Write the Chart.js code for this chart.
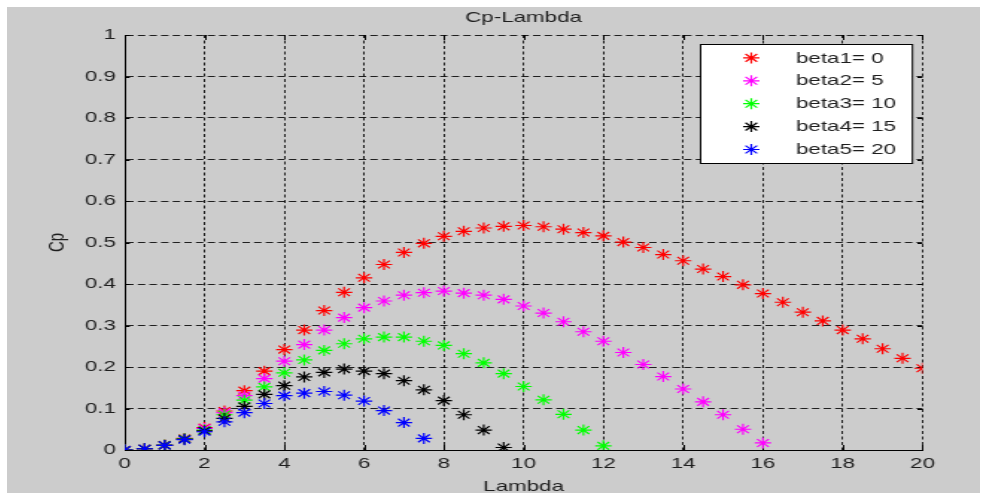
<!DOCTYPE html>
<html><head><meta charset="utf-8">
<script src="https://cdn.jsdelivr.net/npm/chart.js@4/dist/chart.umd.min.js"></script>
<style>
html,body{margin:0;padding:0;background:#ffffff;}
#frame{position:absolute;left:7px;top:7px;width:973px;height:486px;background:#cccccc;overflow:hidden;}
#wrap{position:absolute;left:0;top:0;width:653px;height:486px;transform:scaleX(1.49004);transform-origin:0 0;}
canvas{display:block;}
</style></head><body>
<div id="frame"><div id="wrap"><canvas id="c" width="653" height="486"></canvas></div></div>
<script>
const lambda = [0,0.5,1,1.5,2,2.5,3,3.5,4,4.5,5,5.5,6,6.5,7,7.5,8,8.5,9,9.5,10,10.5,11,11.5,12,12.5,13,13.5,14,14.5,15,15.5,16,16.5,17,17.5,18,18.5,19,19.5,20];
const seriesLabels = ['beta1= 0','beta2= 5','beta3= 10','beta4= 15','beta5= 20'];
const cpBeta0 = [0,0.003,0.012,0.028,0.054,0.094,0.143,0.190,0.242,0.289,0.336,0.380,0.415,0.447,0.476,0.498,0.515,0.527,0.535,0.539,0.541,0.538,0.532,0.524,0.516,0.501,0.488,0.471,0.456,0.436,0.418,0.398,0.377,0.356,0.332,0.311,0.289,0.268,0.244,0.221,0.197];
const cpBeta5 = [0,0.003,0.012,0.027,0.052,0.090,0.131,0.172,0.214,0.254,0.289,0.319,0.343,0.359,0.373,0.379,0.383,0.378,0.373,0.363,0.347,0.330,0.309,0.285,0.262,0.235,0.206,0.177,0.147,0.116,0.085,0.050,0.017];
const cpBeta10 = [0,0.003,0.012,0.027,0.048,0.085,0.120,0.152,0.186,0.217,0.240,0.256,0.268,0.272,0.272,0.262,0.252,0.232,0.210,0.184,0.153,0.121,0.086,0.048,0.010];
const cpBeta15 = [0,0.003,0.011,0.026,0.046,0.076,0.105,0.134,0.155,0.176,0.187,0.195,0.190,0.184,0.167,0.145,0.119,0.085,0.048,0.006];
const cpBeta20 = [0,0.003,0.011,0.025,0.044,0.068,0.090,0.112,0.131,0.137,0.141,0.132,0.118,0.095,0.066,0.028];
const xTickValues = [0,2,4,6,8,10,12,14,16,18,20];
const xTickLabels = ['0','2','4','6','8','10','12','14','16','18','20'];
const yTickValues = [0,0.1,0.2,0.3,0.4,0.5,0.6,0.7,0.8,0.9,1];
const yTickLabels = ['0','0.1','0.2','0.3','0.4','0.5','0.6','0.7','0.8','0.9','1'];

const colors = ['#ff0000','#ff00ff','#00ff00','#000000','#0000ff'];
const allSeries = [cpBeta0, cpBeta5, cpBeta10, cpBeta15, cpBeta20];
const FONT = '"Liberation Sans", Arial, sans-serif';
const TXT = '#1e1e1e';

const datasets = allSeries.map((vals, k) => ({
  label: seriesLabels[k],
  data: vals.map((v, i) => ({x: lambda[i], y: v})),
  showLine: false,
  pointStyle: 'star',
  pointRadius: 5.5,
  pointHoverRadius: 5.5,
  pointBorderWidth: 1.2,
  borderColor: colors[k],
  backgroundColor: colors[k],
  order: 5 - k
}));

const edgeTicks = {
  id: 'edgeTicks',
  beforeDatasetsDraw(chart) {
    const {ctx, chartArea: a, scales: {x, y}} = chart;
    ctx.save();
    ctx.strokeStyle = '#000';
    ctx.lineWidth = 1;
    ctx.beginPath();
    x.ticks.forEach(t => {
      const px = Math.round(x.getPixelForValue(t.value)) + 0.5;
      ctx.moveTo(px, a.bottom); ctx.lineTo(px, a.bottom - 5);
      ctx.moveTo(px, a.top); ctx.lineTo(px, a.top + 5);
    });
    y.ticks.forEach(t => {
      const py = Math.round(y.getPixelForValue(t.value)) + 0.5;
      ctx.moveTo(a.left, py); ctx.lineTo(a.left + 3.4, py);
      ctx.moveTo(a.right, py); ctx.lineTo(a.right - 3.4, py);
    });
    ctx.stroke();
    ctx.restore();
  }
};

const boxLegend = {
  id: 'boxLegend',
  afterDraw(chart) {
    const {ctx, chartArea: a} = chart;
    const ds = chart.data.datasets;
    ctx.save();
    ctx.font = '15px ' + FONT;
    const tw = Math.max(...ds.map(d => ctx.measureText(d.label).width));
    const rowH = 22.9;
    const w = 64 + tw + 11;
    const h = 13.4 + rowH * (ds.length - 1) + 14;
    const left = Math.round(a.right - 7 - w) + 0.5;
    const top = Math.round(a.top + 9) + 0.5;
    ctx.fillStyle = '#ffffff';
    ctx.fillRect(left, top, w, h);
    ctx.strokeStyle = '#000';
    ctx.lineWidth = 1;
    ctx.strokeRect(left, top, w, h);
    ds.forEach((d, i) => {
      const cy = top + 13.4 + rowH * i;
      ctx.strokeStyle = d.borderColor;
      ctx.fillStyle = d.backgroundColor;
      ctx.lineWidth = d.pointBorderWidth;
      Chart.helpers.drawPoint(ctx, {pointStyle: 'star', radius: d.pointRadius, borderWidth: d.pointBorderWidth, rotation: 0}, left + 34, cy);
      ctx.fillStyle = TXT;
      ctx.textBaseline = 'middle';
      ctx.textAlign = 'left';
      ctx.fillText(d.label, left + 64, cy + 0.5);
    });
    ctx.restore();
  }
};

new Chart(document.getElementById('c'), {
  type: 'scatter',
  data: {datasets},
  plugins: [edgeTicks, boxLegend],
  options: {
    responsive: false,
    animation: false,
    devicePixelRatio: 1,
    layout: {padding: {left: 0, right: 38.6, top: 0, bottom: 0}},
    plugins: {
      legend: {display: false},
      tooltip: {enabled: false},
      title: {
        display: true,
        text: 'Cp-Lambda',
        fullSize: false,
        color: TXT,
        font: {family: FONT, size: 15, weight: 'normal', lineHeight: 1.2},
        padding: {top: 2, bottom: 8}
      }
    },
    scales: {
      x: {
        type: 'linear',
        min: 0, max: 20,
        afterBuildTicks: s => { s.ticks = xTickValues.map(v => ({value: v})); },
        afterFit: s => { s.height = 43; },
        ticks: {
          color: TXT,
          font: {family: FONT, size: 15},
          padding: 5,
          maxRotation: 0,
          autoSkip: false,
          callback: (v, i) => xTickLabels[i]
        },
        grid: {color: 'rgba(0,0,0,0.85)', lineWidth: 1, drawTicks: false},
        border: {display: true, color: '#000', width: 1, dash: [3, 2.5]},
        title: {display: true, text: 'Lambda', color: TXT, font: {family: FONT, size: 15, lineHeight: 1.2}, padding: {top: 0, bottom: -3}}
      },
      y: {
        type: 'linear',
        min: 0, max: 1,
        afterBuildTicks: s => { s.ticks = yTickValues.map(v => ({value: v})); },
        afterFit: s => { s.width = 79; },
        ticks: {
          color: TXT,
          font: {family: FONT, size: 15},
          padding: 6,
          autoSkip: false,
          callback: (v, i) => yTickLabels[i]
        },
        grid: {color: 'rgba(0,0,0,0.85)', lineWidth: 1, drawTicks: false},
        border: {display: true, color: '#000', width: 1, dash: [5, 2.8]},
        title: {display: true, text: 'Cp', color: TXT, font: {family: FONT, size: 15, lineHeight: 1.2}, padding: {top: 24.6, bottom: 0}}
      }
    }
  }
});
</script>
</body></html>
